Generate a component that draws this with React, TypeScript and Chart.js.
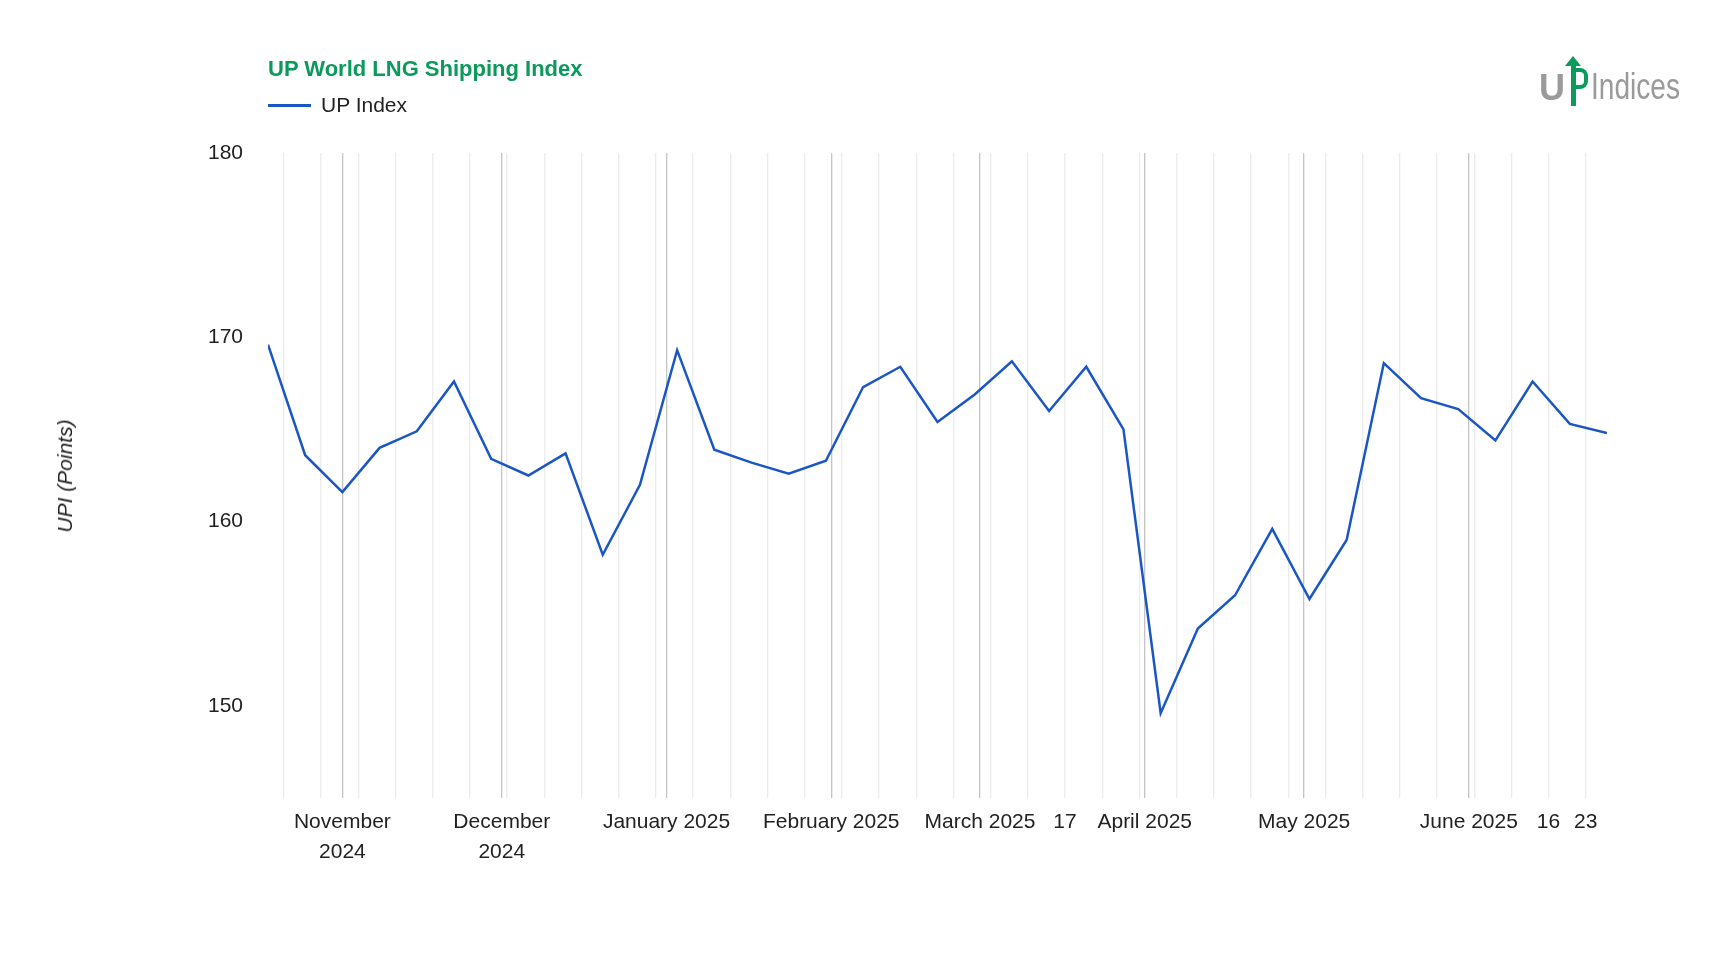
import React, { useEffect, useRef } from "react";
import { Chart, registerables } from "chart.js";
Chart.register(...registerables);

const firstDate = "2024-10-18";
const values = [169.6, 163.6, 161.6, 164.0, 164.9, 167.6, 163.4, 162.5, 163.7, 158.2, 162.0, 169.3, 163.9, 163.2, 162.6, 163.3, 167.3, 168.4, 165.4, 166.9, 168.7, 166.0, 168.4, 165.0, 149.6, 154.2, 156.0, 159.6, 155.8, 159.0, 168.6, 166.7, 166.1, 164.4, 167.6, 165.3, 164.8];
const extraDayLabels = ["2025-03-17", "2025-06-16", "2025-06-23"];
const monthNames = ["January", "February", "March", "April", "May", "June", "July", "August", "September", "October", "November", "December"];
const twoLineMonths = ["2024-11-01", "2024-12-01"];
const yTicks = [150, 160, 170, 180];

const DAY = 86400000;
const toMs = (s: string) => Date.parse(s + "T00:00:00Z");
const iso = (ms: number) => new Date(ms).toISOString().slice(0, 10);

export default function App() {
  const ref = useRef<HTMLCanvasElement>(null);
  useEffect(() => {
    const start = toMs(firstDate);
    const pts = values.map((v, i) => ({ x: start + i * 7 * DAY, y: v }));
    const end = pts[pts.length - 1].x;
    const tickVals: number[] = [];
    for (let t = start; t <= end; t += DAY) {
      const d = new Date(t);
      if (d.getUTCDay() === 1 || d.getUTCDate() === 1) tickVals.push(t);
    }
    const chart = new Chart(ref.current!, {
      type: "line",
      data: { datasets: [{ data: pts, borderColor: "#1a56c4", borderWidth: 2.5, pointRadius: 0, tension: 0 }] },
      options: {
        animation: false,
        responsive: false,
        layout: { padding: { top: 153, right: 127, left: 0, bottom: 0 } },
        plugins: { legend: { display: false }, tooltip: { enabled: false } },
        scales: {
          x: {
            type: "linear",
            min: start,
            max: end,
            afterFit: (s: any) => { s.height = 162; },
            afterBuildTicks: (s: any) => { s.ticks = tickVals.map((v) => ({ value: v })); },
            grid: {
              drawTicks: false,
              lineWidth: 1.3,
              color: (c: any) => (c.tick && new Date(c.tick.value).getUTCDate() === 1 ? "#c4c4c4" : "#ececec"),
            },
            border: { display: false },
            ticks: {
              autoSkip: false,
              maxRotation: 0,
              padding: 9,
              color: "#222",
              font: { family: "Liberation Sans, Arial", size: 21, lineHeight: 1.42 },
              callback: (v: any) => {
                const s = iso(v as number);
                const d = new Date(v as number);
                if (d.getUTCDate() === 1) {
                  const name = monthNames[d.getUTCMonth()];
                  const yr = String(d.getUTCFullYear());
                  return twoLineMonths.includes(s) ? [name, yr] : name + " " + yr;
                }
                if (extraDayLabels.includes(s)) return String(d.getUTCDate());
                return "";
              },
            },
          },
          y: {
            min: 145,
            max: 180,
            afterFit: (s: any) => { s.width = 268; },
            afterBuildTicks: (s: any) => { s.ticks = yTicks.map((v) => ({ value: v })); },
            grid: { display: false },
            border: { display: false },
            ticks: { padding: 17, color: "#222", font: { family: "Liberation Sans, Arial", size: 21 } },
          },
        },
      },
    });
    return () => chart.destroy();
  }, []);

  return (
    <div style={{ position: "fixed", left: 0, top: 0, width: 1734, height: 960, background: "#fff", fontFamily: "Liberation Sans, Arial" }}>
      <canvas ref={ref} width={1734} height={960} style={{ position: "absolute", left: 0, top: 0 }} />
      <div style={{ position: "absolute", left: 268, top: 56, color: "#0a9a5c", fontWeight: "bold", fontSize: 22 }}>UP World LNG Shipping Index</div>
      <div style={{ position: "absolute", left: 268, top: 93, display: "flex", alignItems: "center", fontSize: 21, color: "#222" }}>
        <span style={{ display: "inline-block", width: 43, height: 3, background: "#1a56c4", marginRight: 10 }} />
        UP Index
      </div>
      <div style={{ position: "absolute", left: 65, top: 476, transform: "translate(-50%,-50%) rotate(-90deg)", fontStyle: "italic", fontSize: 21, color: "#222", whiteSpace: "nowrap" }}>UPI (Points)</div>
      <div style={{ position: "absolute", left: 1539, top: 56, display: "flex", alignItems: "flex-end", height: 50 }}>
        <span style={{ color: "#9a9a9a", fontWeight: "bold", fontSize: 36, lineHeight: "36px" }}>U</span>
        <span style={{ position: "relative", width: 22, height: 50, display: "inline-block" }}>
          <span style={{ position: "absolute", left: 6, top: 8, width: 5, height: 42, background: "#0a9a5c" }} />
          <span style={{ position: "absolute", left: 0, top: 0, width: 0, height: 0, borderLeft: "8px solid transparent", borderRight: "8px solid transparent", borderBottom: "10px solid #0a9a5c" }} />
          <span style={{ position: "absolute", left: 11, top: 12, width: 8, height: 13, border: "4px solid #0a9a5c", borderLeft: "none", borderRadius: "0 8px 8px 0" }} />
        </span>
        <span style={{ color: "#9a9a9a", fontSize: 36, lineHeight: "38px", marginLeft: 4, display: "inline-block", transform: "scaleX(0.78)", transformOrigin: "left bottom", width: 96 }}>Indices</span>
      </div>
    </div>
  );
}
